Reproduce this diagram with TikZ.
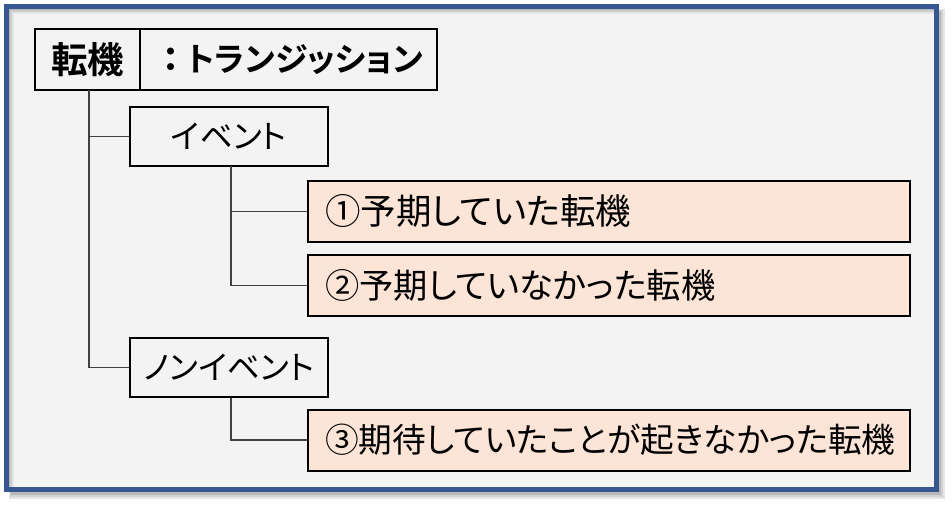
\documentclass[tikz,border=0pt]{standalone}
\usepackage{fontspec}
\newfontfamily\jp{Noto Sans CJK JP}[RawFeature=+palt,BoldFont={Noto Sans CJK JP Bold}]
\newfontfamily\jpfull{Noto Sans CJK JP Bold}
\definecolor{framebg}{HTML}{F2F3F2}
\definecolor{frameblue}{HTML}{36578F}
\definecolor{peach}{HTML}{FCE4D6}
\definecolor{conn}{HTML}{404040}
\tikzset{
  hbox/.style={draw=black, line width=2pt, fill=framebg, inner sep=0pt, minimum height=61pt, font=\jp\bfseries\fontsize{33}{38}\selectfont},
  cat/.style={draw=black, line width=1.8pt, fill=framebg, inner sep=0pt, minimum width=198pt, minimum height=59pt, font=\jp\fontsize{32.5}{38}\selectfont},
  item/.style={draw=black, line width=2pt, fill=peach, inner sep=0pt, minimum width=602pt, minimum height=61pt, text width=568pt, align=left},
  link/.style={draw=conn, line width=1.3pt}
}
\begin{document}
\begin{tikzpicture}[x=1pt,y=-1pt]
\useasboundingbox (0,0) rectangle (952,507);
\fill[white] (0,0) rectangle (952,507);
% outer shadow
\fill[black!10] (9,9) rectangle (945,499);
\fill[black!18] (10,10) rectangle (943,497);
\fill[black!28] (11,11) rectangle (941,494.5);
\draw[frameblue, line width=5.5pt, fill=framebg] (6.3,6.3) rectangle (936.5,489.5);
% inner shadow
\foreach \d/\c in {0/24,1/18,2/13,3/8,4/4}{
  \draw[black!\c!framebg, line width=1pt] (9.5+\d,486.5) -- (9.5+\d,9.5+\d) -- (933.5,9.5+\d);
}
% header
\node[hbox, minimum width=105pt, font=\jp\bfseries\fontsize{36.5}{40}\selectfont] (ten) at (87.5,59.5) {転機};
\node[hbox, minimum width=297pt] (tr) at (288.5,59.5) {{\jpfull：}トランジッション};
% categories
\node[cat] (ev) at (229,136.5) {イベント};
\node[cat] (nev) at (229,367.5) {ノンイベント};
% items
\node[item, font=\jp\fontsize{35.5}{40}\selectfont] (i1) at (609,211.5) {①予期していた転機};
\node[item, font=\jp\fontsize{34.3}{40}\selectfont] (i2) at (609,285.5) {②予期していなかった転機};
\node[item, font=\jp\fontsize{33.7}{40}\selectfont] (i3) at (609,440) {③期待していたことが起きなかった転機};
% connectors
\coordinate (t0) at (89,90);
\coordinate (e0) at (231,166);
\draw[link] (t0) |- (nev.west);
\draw[link] (t0 |- ev.west) -- (ev.west);
\draw[link] (e0) |- (i2.west);
\draw[link] (e0 |- i1.west) -- (i1.west);
\draw[link] (nev.south -| e0) |- (i3.west);
\end{tikzpicture}
\end{document}
